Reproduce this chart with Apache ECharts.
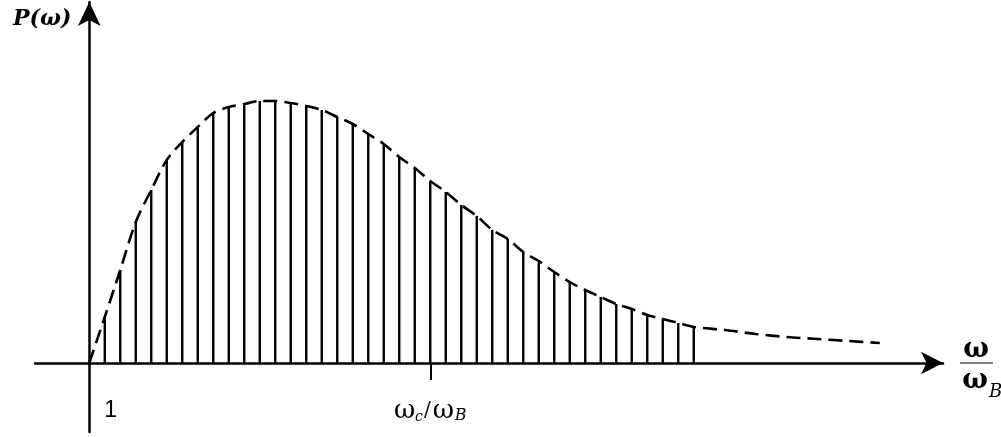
<!DOCTYPE html>
<html>
<head>
<meta charset="utf-8">
<script src="https://cdn.jsdelivr.net/npm/echarts@6/dist/echarts.min.js"></script>
<style>
  html, body { margin: 0; padding: 0; background: #fff; }
  #chart { width: 1001px; height: 437px; }
</style>
</head>
<body>
<div id="chart"></div>
<script>
// harmonics n = omega / omega_B, and the power in each line (arbitrary units)
var harmonics = [1, 2, 3, 4, 5, 6, 7, 8, 9, 10, 11, 12, 13, 14, 15, 16, 17, 18, 19, 20,
                 21, 22, 23, 24, 25, 26, 27, 28, 29, 30, 31, 32, 33, 34, 35, 36, 37, 38, 39];
var stemPower = [46, 93, 141, 173, 203, 221, 236, 250, 256, 259, 262, 262, 260, 257, 253, 246, 239, 229, 219, 206,
                 195, 182, 171, 158, 147, 133, 124, 111, 102, 91, 81, 73, 66, 59, 54, 48, 44, 40, 36];

// dashed envelope P(omega)
var envelopeX = [0, 1, 2, 3, 4, 5, 6, 7, 8, 9, 10, 11, 12, 13, 14, 15, 16, 17, 18, 19, 20,
                 21, 22, 23, 24, 25, 26, 27, 28, 29, 30, 31, 32, 33, 34, 35, 36, 37, 38, 39,
                 41, 43, 45, 47, 49, 51];
var envelopeP = [0, 46, 93, 141, 173, 203, 221, 236, 250, 256, 259, 262, 262, 260, 257, 253, 246, 239, 229, 219, 206,
                 195, 182, 171, 158, 147, 133, 124, 111, 102, 91, 81, 73, 66, 59, 54, 48, 44, 40, 36,
                 33, 29, 26, 24, 22, 20];

// marked positions on the frequency axis
var tickValues = [1, 22];
var tickLabels = ['{one|1}', '{w|ω}{sub|c}{sl|/}{w|ω}{subB|B}'];
var tickMarks = [22];

var labelRich = {
    one: { fontFamily: 'Liberation Sans', fontSize: 23, color: '#000', padding: [0, 0, 0, 12] },
    w: { fontFamily: 'DejaVu Serif', fontSize: 26, color: '#000' },
    sl: { fontFamily: 'DejaVu Serif', fontSize: 20, color: '#000', padding: [0, 2, 0, 1] },
    sub: { fontFamily: 'DejaVu Serif', fontStyle: 'italic', fontSize: 14, color: '#000', padding: [12, 0, 0, 0] },
    subB: { fontFamily: 'DejaVu Serif', fontStyle: 'italic', fontSize: 16, color: '#000', padding: [10, 0, 0, 1] }
};

var chart = echarts.init(document.getElementById('chart'));

var stemData = harmonics.map(function (n, i) { return [n, stemPower[i]]; });
var envelopeData = envelopeX.map(function (x, i) { return [x, envelopeP[i]]; });

var option = {
    animation: false,
    backgroundColor: '#fff',
    title: {
        text: 'P(ω)',
        left: 8,
        top: 3,
        textStyle: {
            fontFamily: 'DejaVu Serif',
            fontStyle: 'italic',
            fontWeight: 'bold',
            fontSize: 22,
            color: '#000'
        }
    },
    grid: {
        left: 35,
        right: 58,
        top: 2,
        bottom: 5,
        outerBoundsMode: 'none'
    },
    xAxis: {
        type: 'value',
        min: -3.5,
        max: 55.08,
        splitLine: { show: false },
        axisLine: {
            onZero: true,
            symbol: ['none', 'arrow'],
            symbolSize: [17, 22],
            lineStyle: { color: '#000', width: 2.5 }
        },
        axisTick: {
            show: true,
            customValues: tickMarks,
            length: 17,
            lineStyle: { color: '#000', width: 2 }
        },
        axisLabel: { show: false }
    },
    yAxis: {
        type: 'value',
        min: -69,
        max: 361,
        splitLine: { show: false },
        axisLabel: { show: false },
        axisTick: { show: false },
        axisLine: {
            onZero: true,
            symbol: ['none', 'arrow'],
            symbolSize: [17, 24],
            lineStyle: { color: '#000', width: 2.5 }
        }
    },
    series: [
        {
            name: 'lines',
            type: 'bar',
            data: stemData,
            barWidth: 2.4,
            itemStyle: { color: '#000' },
            z: 2
        },
        {
            name: 'envelope',
            type: 'line',
            data: envelopeData,
            smooth: 0.3,
            showSymbol: false,
            symbol: 'none',
            lineStyle: { color: '#000', width: 2.6, type: [14, 7] },
            z: 3
        }
    ]
};

chart.setOption(option);

// tick labels placed through the x scale, below the axis line
var graphics = tickValues.map(function (v, i) {
    var p = chart.convertToPixel({ xAxisIndex: 0, yAxisIndex: 0 }, [v, 0]);
    return {
        type: 'text',
        x: p[0],
        y: p[1] + 48,
        style: {
            text: tickLabels[i],
            rich: labelRich,
            align: 'center',
            verticalAlign: 'middle'
        }
    };
});

// omega / omega_B at the end of the frequency axis
graphics.push(
    {
        type: 'text',
        x: 976, y: 350,
        style: { text: 'ω', font: 'bold 27px "DejaVu Serif"', fill: '#000', align: 'center', verticalAlign: 'middle' }
    },
    {
        type: 'line',
        shape: { x1: 960, y1: 363, x2: 993, y2: 363 },
        style: { stroke: '#000', lineWidth: 1.2 }
    },
    {
        type: 'text',
        x: 975, y: 381,
        style: { text: 'ω', font: 'bold 27px "DejaVu Serif"', fill: '#000', align: 'center', verticalAlign: 'middle' }
    },
    {
        type: 'text',
        x: 989, y: 392,
        style: { text: 'B', font: 'italic 18px "DejaVu Serif"', fill: '#000', align: 'left', verticalAlign: 'middle' }
    }
);

chart.setOption({ graphic: graphics });
</script>
</body>
</html>
